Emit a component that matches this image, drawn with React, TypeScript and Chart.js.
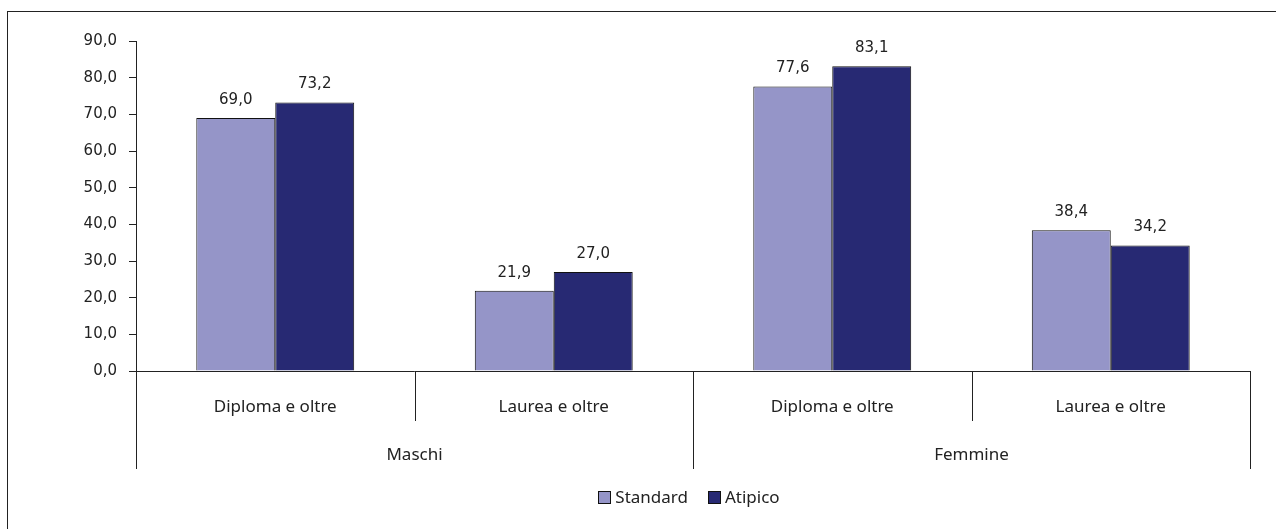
import { useEffect, useRef } from "react";
import { Chart, registerables } from "chart.js";

Chart.register(...registerables);

const categories = ["Diploma e oltre", "Laurea e oltre", "Diploma e oltre", "Laurea e oltre"];
const groups = ["Maschi", "Femmine"];
const groupSize = 2;
const seriesNames = ["Standard", "Atipico"];
const standardValues = [69.0, 21.9, 77.6, 38.4];
const atipicoValues = [73.2, 27.0, 83.1, 34.2];
const yMin = 0;
const yMax = 90;
const yStep = 10;

const seriesColors = ["#9595C8", "#272973"];
const barBorder = "#111111";
const textColor = "#222222";
const lineColor = "#222222";

const W = 1276;
const H = 529;

const fmt = (v: number) => v.toFixed(1).replace(".", ",");

const catFont = "17px 'Noto Sans'";
const numFont = "15px 'DejaVu Sans'";

const dataLabelPlugin = {
  id: "dataLabels",
  afterDatasetsDraw(chart: any) {
    const { ctx } = chart;
    ctx.save();
    ctx.font = numFont;
    ctx.fillStyle = textColor;
    ctx.textAlign = "center";
    ctx.textBaseline = "middle";
    chart.data.datasets.forEach((ds: any, di: number) => {
      const meta = chart.getDatasetMeta(di);
      meta.data.forEach((bar: any, i: number) => {
        ctx.fillText(fmt(ds.data[i]), bar.x, bar.y - 18);
      });
    });
    ctx.restore();
  },
};

const multiAxisPlugin = {
  id: "multiAxis",
  afterDraw(chart: any) {
    const { ctx, chartArea } = chart;
    const x = chart.scales.x;
    const n = categories.length;
    const bottom = chartArea.bottom;
    const bounds: number[] = [];
    for (let i = 0; i <= n; i++) {
      if (i === 0) bounds.push(chartArea.left);
      else if (i === n) bounds.push(chartArea.right);
      else bounds.push((x.getPixelForValue(i - 1) + x.getPixelForValue(i)) / 2);
    }
    ctx.save();
    ctx.strokeStyle = lineColor;
    ctx.lineWidth = 1;
    bounds.forEach((bx, i) => {
      const edge = i % groupSize === 0;
      const px = Math.round(bx) + 0.5;
      ctx.beginPath();
      ctx.moveTo(px, bottom);
      ctx.lineTo(px, bottom + (edge ? 98 : 50));
      ctx.stroke();
    });
    ctx.font = catFont;
    ctx.fillStyle = textColor;
    ctx.textAlign = "center";
    ctx.textBaseline = "middle";
    categories.forEach((c, i) => {
      ctx.fillText(c, (bounds[i] + bounds[i + 1]) / 2, bottom + 36);
    });
    groups.forEach((g, gi) => {
      const l = bounds[gi * groupSize];
      const r = bounds[(gi + 1) * groupSize];
      ctx.fillText(g, (l + r) / 2, bottom + 84);
    });

    // legend
    const box = 13;
    const gap = 4;
    const itemGap = 20;
    const widths = seriesNames.map((s) => ctx.measureText(s).width);
    const total =
      widths.reduce((a, b) => a + b, 0) +
      seriesNames.length * (box + gap) +
      itemGap * (seriesNames.length - 1);
    let lx = (chartArea.left + chartArea.right) / 2 - total / 2 - 4;
    const ly = 498;
    ctx.textAlign = "left";
    seriesNames.forEach((s, i) => {
      const bx = Math.round(lx);
      ctx.fillStyle = seriesColors[i];
      ctx.fillRect(bx, ly - 7, box, box);
      ctx.strokeStyle = barBorder;
      ctx.strokeRect(bx + 0.5, ly - 7 + 0.5, box - 1, box - 1);
      ctx.fillStyle = textColor;
      ctx.fillText(s, lx + box + gap, ly);
      lx += box + gap + widths[i] + itemGap;
    });
    ctx.restore();
  },
};

export default function App() {
  const ref = useRef<HTMLCanvasElement | null>(null);
  useEffect(() => {
    if (!ref.current) return;
    const chart = new Chart(ref.current, {
      type: "bar",
      data: {
        labels: categories,
        datasets: [
          {
            label: seriesNames[0],
            data: standardValues,
            backgroundColor: seriesColors[0],
            borderColor: barBorder,
            borderWidth: 1,
            categoryPercentage: 0.567,
            barPercentage: 1.0,
          },
          {
            label: seriesNames[1],
            data: atipicoValues,
            backgroundColor: seriesColors[1],
            borderColor: barBorder,
            borderWidth: 1,
            categoryPercentage: 0.567,
            barPercentage: 1.0,
          },
        ],
      },
      options: {
        responsive: false,
        animation: false,
        devicePixelRatio: 1,
        layout: { padding: { left: 0, top: 41, right: 26, bottom: 0 } },
        plugins: {
          legend: { display: false },
          tooltip: { enabled: false },
          title: { display: false },
        },
        scales: {
          x: {
            ticks: { display: false },
            grid: { display: false },
            border: { display: true, color: lineColor, width: 1 },
            afterFit: (scale: any) => {
              scale.height = H - 371;
            },
          },
          y: {
            min: yMin,
            max: yMax,
            ticks: {
              stepSize: yStep,
              font: { family: "'DejaVu Sans'", size: 15 },
              color: textColor,
              padding: 12,
              callback: (v: any) => fmt(Number(v)),
            },
            grid: {
              display: true,
              drawOnChartArea: false,
              drawTicks: true,
              tickLength: 7,
              color: lineColor,
            },
            border: { display: true, color: lineColor, width: 1 },
            afterFit: (scale: any) => {
              scale.width = 136;
            },
          },
        },
      },
      plugins: [dataLabelPlugin, multiAxisPlugin],
    });
    return () => chart.destroy();
  }, []);

  return (
    <div
      style={{
        position: "fixed",
        left: 0,
        top: 0,
        width: W,
        height: H,
        overflow: "hidden",
        background: "#ffffff",
      }}
    >
      <div
        style={{
          position: "absolute",
          left: 7,
          top: 11,
          width: W + 50,
          height: H + 50,
          border: "1px solid #222",
          boxSizing: "border-box",
        }}
      />
      <canvas
        ref={ref}
        width={W}
        height={H}
        style={{ position: "absolute", left: 0, top: 0, width: W, height: H }}
      />
    </div>
  );
}
